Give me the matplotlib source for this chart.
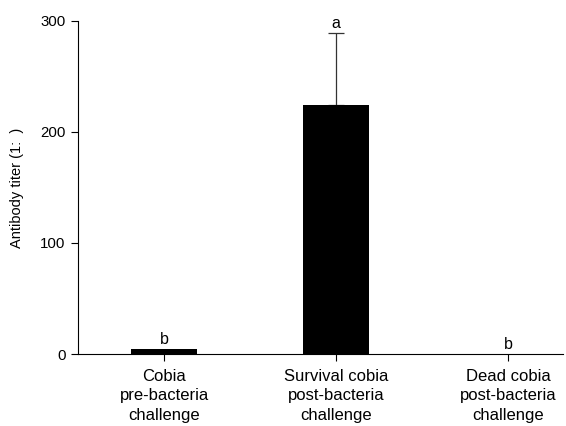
import matplotlib
matplotlib.use("Agg")
import matplotlib.pyplot as plt

categories = ["Cobia\npre-bacteria\nchallenge", "Survival cobia\npost-bacteria\nchallenge", "Dead cobia\npost-bacteria\nchallenge"]
values = [4.5, 224, 0.3]
err_upper = [0, 65, 0]
letters = ["b", "a", "b"]
yticks = [0, 100, 200, 300]

plt.rcParams['font.family'] = ['Liberation Sans', 'DejaVu Sans']
fig = plt.figure(figsize=(5.66, 4.26), dpi=100)
ax = fig.add_axes([0.138, 0.169, 0.857, 0.782])
x = list(range(len(categories)))
ax.bar(x, values, width=0.38, color='black', zorder=2)
ax.errorbar(x[1], values[1], yerr=[[0], [err_upper[1]]], fmt='none', ecolor='#333333',
            elinewidth=0.9, capsize=6, capthick=0.9, zorder=1)
for xi, v, e, l in zip(x, values, err_upper, letters):
    ax.text(xi, v + e + 1.5, l, ha='center', va='bottom', fontsize=11.5)
ax.set_xlim(-0.5, 2.32)
ax.set_ylim(0, 300)
ax.set_yticks(yticks)
ax.set_xticks(x)
ax.set_xticklabels(categories, fontsize=12, linespacing=1.35)
ax.tick_params(axis='y', labelsize=10.8, direction='out', length=5, width=0.8, pad=4)
ax.tick_params(axis='x', direction='out', length=5, width=0.8, pad=6)
ax.spines['top'].set_visible(False)
ax.spines['right'].set_visible(False)
ax.set_ylabel("Antibody titer (1:  )", fontsize=10.5, labelpad=12)
fig.savefig("out.png", dpi=100)
